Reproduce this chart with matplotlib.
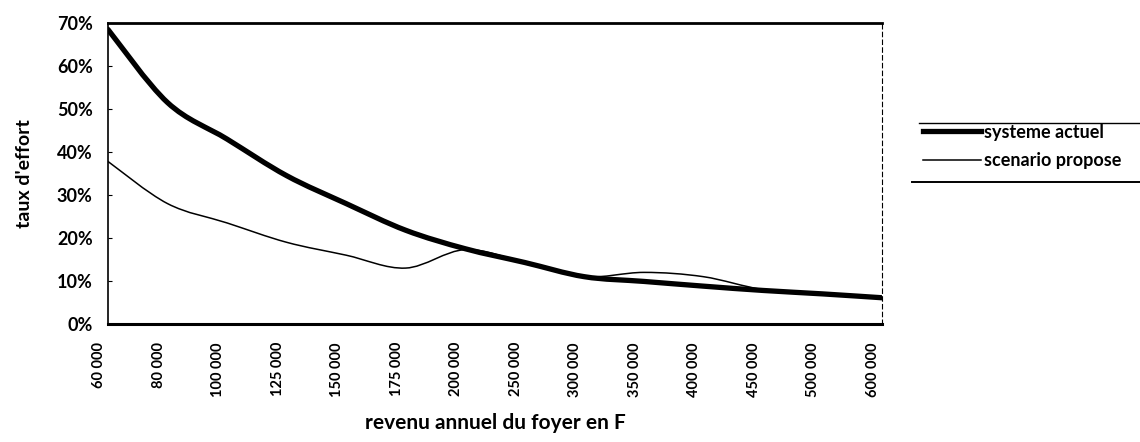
import matplotlib
matplotlib.use("Agg")
import matplotlib.pyplot as plt
import matplotlib.transforms as mtransforms
from matplotlib.path import Path
from matplotlib.patches import PathPatch
from matplotlib.lines import Line2D
import numpy as np

plt.rcParams['font.family'] = ['Lato', 'DejaVu Sans']

revenus = ["60 000", "80 000", "100 000", "125 000", "150 000", "175 000", "200 000",
           "250 000", "300 000", "350 000", "400 000", "450 000", "500 000", "600 000"]
systeme_actuel = [68.5, 51.5, 43.0, 34.5, 28.0, 21.8, 17.5, 14.3, 11.0, 9.9, 8.8, 7.8, 7.0, 6.1]
scenario_propose = [37.8, 28.0, 23.5, 19.0, 16.0, 13.0, 17.3, 14.3, 11.0, 12.0, 11.0, 8.0, 7.0, 6.1]
series_names = ["systeme actuel", "scenario propose"]


def smooth_path(xs, ys):
    # Catmull-Rom style smoothing, like the "smoothed line" option of a spreadsheet
    pts = np.column_stack([xs, ys]).astype(float)
    verts = [pts[0]]
    codes = [Path.MOVETO]
    n = len(pts)
    for i in range(n - 1):
        p0 = pts[max(i - 1, 0)]
        p1 = pts[i]
        p2 = pts[i + 1]
        p3 = pts[min(i + 2, n - 1)]
        c1 = p1 + (p2 - p0) / 6.0
        c2 = p2 - (p3 - p1) / 6.0
        verts += [c1, c2, p2]
        codes += [Path.CURVE4] * 3
    return Path(verts, codes)


fig = plt.figure(figsize=(11.4, 4.42), dpi=100)
ax = fig.add_axes([0.0947, 0.267, 0.679, 0.681])

x = np.arange(len(revenus))
for vals, lw in [(systeme_actuel, 3.8), (scenario_propose, 1.1)]:
    patch = PathPatch(smooth_path(x, vals), facecolor='none', edgecolor='black',
                      lw=lw, capstyle='round', joinstyle='round', zorder=3)
    ax.add_patch(patch)

ax.set_xlim(0, len(revenus) - 1)
ax.set_ylim(0, 70)
ax.set_yticks(np.arange(0, 71, 10))
ax.set_yticklabels([f"{v}%" for v in range(0, 71, 10)], fontsize=13, fontweight='bold')
ax.set_xticks(x)
ax.set_xticklabels(revenus, rotation=90, fontsize=10.5, fontweight='bold')
ax.tick_params(axis='y', direction='in', length=3, width=0.8, pad=11)
ax.tick_params(axis='x', length=0, pad=13)

# x labels sit a bit left of the data points in the reference
offset = mtransforms.ScaledTranslation(-9 / 100, 0, fig.dpi_scale_trans)
for lab in ax.get_xticklabels():
    lab.set_transform(lab.get_transform() + offset)

ax.spines['top'].set_linewidth(2.0)
ax.spines['bottom'].set_linewidth(2.2)
ax.spines['left'].set_linewidth(1.2)
ax.spines['right'].set_linewidth(0.8)
ax.spines['right'].set_linestyle((0, (4, 3)))

ax.set_ylabel("taux d'effort", fontsize=14, fontweight='bold', labelpad=17)
ax.set_xlabel("revenu annuel du foyer en F", fontsize=15, fontweight='bold', labelpad=12)

handles = [Line2D([], [], color='black', lw=3.8),
           Line2D([], [], color='black', lw=1.1)]
leg = fig.legend(handles, series_names, loc='upper left', bbox_to_anchor=(0.81, 0.72),
                 frameon=False, fontsize=13, handlelength=3.2, handletextpad=0.15,
                 labelspacing=0.65, borderaxespad=0, borderpad=0)
for t in leg.get_texts():
    t.set_fontweight('bold')

# legend box: only top and bottom rules remain visible
fig.add_artist(Line2D([0.806, 1.0], [0.722, 0.722], color='black', lw=1.0))
fig.add_artist(Line2D([0.800, 1.0], [0.588, 0.588], color='black', lw=1.4))

fig.savefig("out.png", dpi=100)
